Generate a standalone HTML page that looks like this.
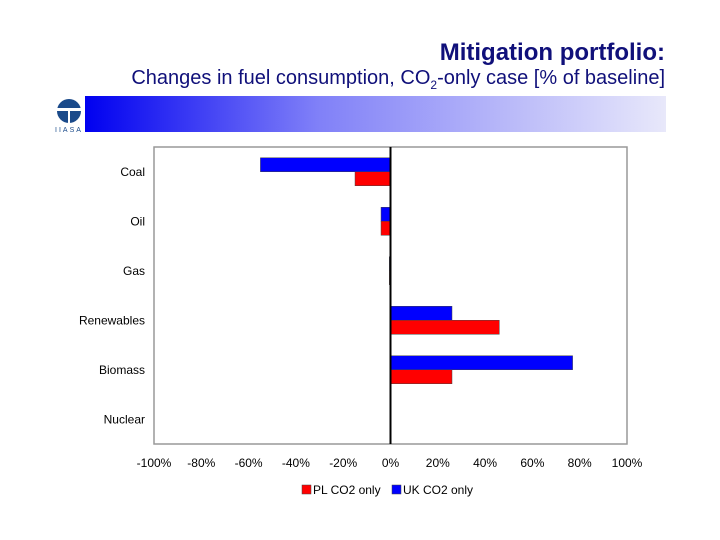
<!DOCTYPE html>
<html><head><meta charset="utf-8"><style>
body{margin:0;width:720px;height:540px;background:#fff;font-family:"Liberation Sans",sans-serif;overflow:hidden;position:relative}
.t{position:absolute;right:55px;color:#10107a;white-space:nowrap}
</style></head><body>
<div class="t" style="top:39px;font-size:24px;font-weight:bold">Mitigation portfolio:</div>
<div class="t" style="top:67px;font-size:20px">Changes in fuel consumption, CO<sub style="font-size:12px">2</sub>-only case [% of baseline]</div>
<div style="position:absolute;left:85px;top:96px;width:581px;height:36px;background:linear-gradient(to right,#0000f0,#8080f8 40%,#e8e8fa)"></div>
<svg style="position:absolute;left:54px;top:96px" width="30" height="38">
<circle cx="15" cy="15" r="12" fill="#1a4a8a"/><rect x="3" y="12" width="24" height="3" fill="#fff"/><rect x="14" y="15" width="2" height="12" fill="#fff"/>
<text x="15" y="36" font-size="7" text-anchor="middle" fill="#1a4a8a" letter-spacing="2">IIASA</text></svg>
<svg id="chart" style="position:absolute;left:0;top:0" width="720" height="540"></svg>
<script>
const categories=["Coal","Oil","Gas","Renewables","Biomass","Nuclear"];
const ukValues=[-55,-4,-0.5,26,77,0];
const plValues=[-15,-4,-0.5,46,26,0];
const ticks=[-100,-80,-60,-40,-20,0,20,40,60,80,100];
const NS="http://www.w3.org/2000/svg",svg=document.getElementById('chart');
const L=154,R=627,T=147,B=444;
const x=v=>L+(v+100)/200*(R-L);
const band=(B-T)/categories.length;
function el(t,a){const e=document.createElementNS(NS,t);for(const k in a)e.setAttribute(k,a[k]);svg.appendChild(e);return e;}
let f=el('rect',{x:L,y:T,width:R-L,height:B-T,fill:'#fff',stroke:'#999','stroke-width':1.5});


categories.forEach((c,i)=>{
 const y0=T+i*band,cy=y0+band/2;
 let t=el('text',{x:145,y:cy+4,'font-size':12,'text-anchor':'end',fill:'#000'});t.textContent=c;
 
 
 [[ukValues[i],'#0000ff',cy-14],[plValues[i],'#ff0000',cy]].forEach(([v,col,yy])=>{
  const a=x(Math.min(0,v)),w=Math.abs(x(v)-x(0));
  let r=el('rect',{x:a,y:yy,width:w,height:14,fill:col,stroke:'#444','stroke-width':0.5});
  
  
 });
});
let z=el('line',{x1:x(0),x2:x(0),y1:T,y2:B,stroke:'#000','stroke-width':2});


ticks.forEach(v=>{let t=el('text',{x:x(v),y:467,'font-size':12,'text-anchor':'middle'});t.textContent=v+'%';
 
 });
[[302,'#ff0000','PL CO2 only'],[392,'#0000ff','UK CO2 only']].forEach(([lx,col,s])=>{
 let r=el('rect',{x:lx,y:485,width:9,height:9,fill:col,stroke:'#444','stroke-width':0.5});
 
 
 let t=el('text',{x:lx+11,y:494,'font-size':12});t.textContent=s;
 
 
});
</script>
</body></html>
